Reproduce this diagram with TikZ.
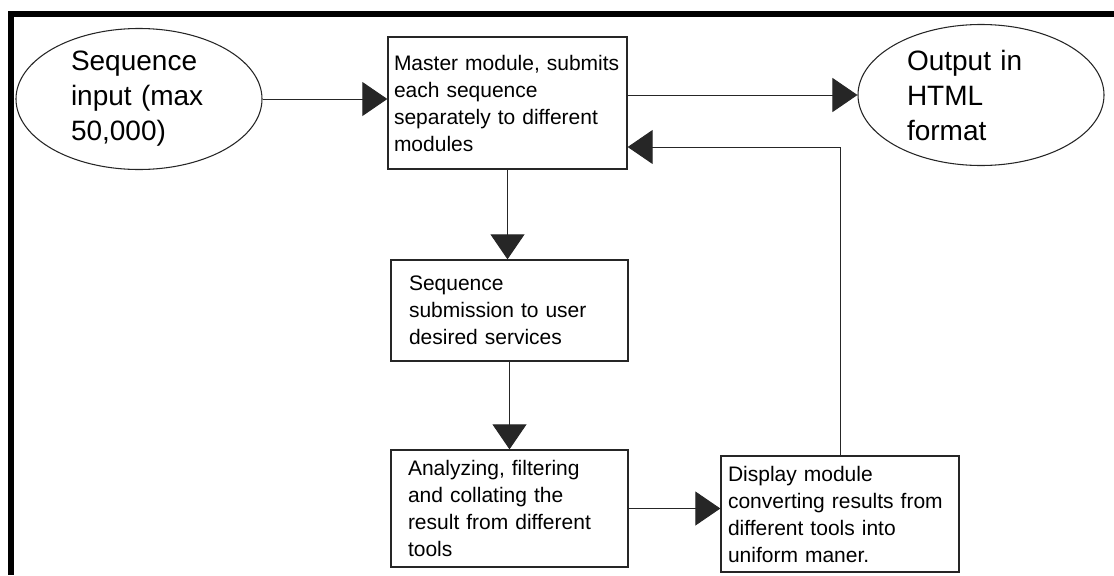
\documentclass[tikz,border=0pt]{standalone}
\usepackage{fontspec}
\setmainfont{Liberation Sans}
\usetikzlibrary{shapes.geometric, arrows.meta, positioning, calc}

\begin{document}
\begin{tikzpicture}[
		x=0.75pt, y=-0.75pt,
		% Styles
		termEllipse/.style={ellipse, draw=black!85, line width=0.8pt, inner sep=0pt, minimum width=184.5pt, minimum height=105.75pt, text width=#1, align=left, font=\fontsize{21pt}{26.25pt}\selectfont},
		moduleBox/.style={draw=black!85, line width=1pt, inner ysep=0pt, align=left, font=\fontsize{15.75pt}{20.25pt}\selectfont},
		flowArrow/.style={-{Triangle[length=18.75pt, width=25.5pt]}, line width=0.75pt, draw=black!85}
		]
		
		\useasboundingbox (0,0) rectangle (1114,575);
		
		% =========================================================
		% 1. FRAME
		% =========================================================
		\fill[black] (8,11) rectangle (1114,17);
		\fill[black] (8,11) rectangle (14,575);
		
		% =========================================================
		% 2. INPUT / OUTPUT
		% =========================================================
		\node[termEllipse=102pt] (Input) at (139,99) {Sequence\\input (max\\50,000)};
		\node[termEllipse=111pt] (Output) at (981,95) {Output in\\HTML\\format};
		
		% =========================================================
		% 3. MODULES
		% =========================================================
		\node[moduleBox, inner xsep=4.5pt, text width=170.25pt, minimum height=99pt] (Master) at (507.5,103) {Master module, submits\\each sequence\\separately to different\\modules};
		\node[moduleBox, inner xsep=13.5pt, text width=150.75pt, minimum height=75.75pt] (Submit) at (509.5,310.5) {Sequence\\submission to user\\desired services};
		\node[moduleBox, inner xsep=12.75pt, text width=152.25pt, minimum height=87.75pt] (Analyze) at (509.5,508.5) {Analyzing, filtering\\and collating the\\result from different\\tools};
		\node[moduleBox, inner xsep=5.25pt, text width=168pt, minimum height=87pt] (Display) at (840,514) {Display module\\converting results from\\different tools into\\uniform maner.};
		
		% =========================================================
		% 4. CONNECTORS
		% =========================================================
		\coordinate (FeedbackIn) at ($(Master.south east)!0.17!(Master.north east)$);
		
		\draw[flowArrow] (Input.east) -- (Input.east -| Master.west);
		\draw[flowArrow] (Master.east |- Output.west) -- (Output.west);
		\draw[flowArrow] (Master.south) -- (Master.south |- Submit.north);
		\draw[flowArrow] (Submit.south) -- (Submit.south |- Analyze.north);
		\draw[flowArrow] (Analyze.east) -- (Analyze.east -| Display.west);
		\draw[flowArrow] (Display.north) |- (FeedbackIn);
		
	\end{tikzpicture}
\end{document}
